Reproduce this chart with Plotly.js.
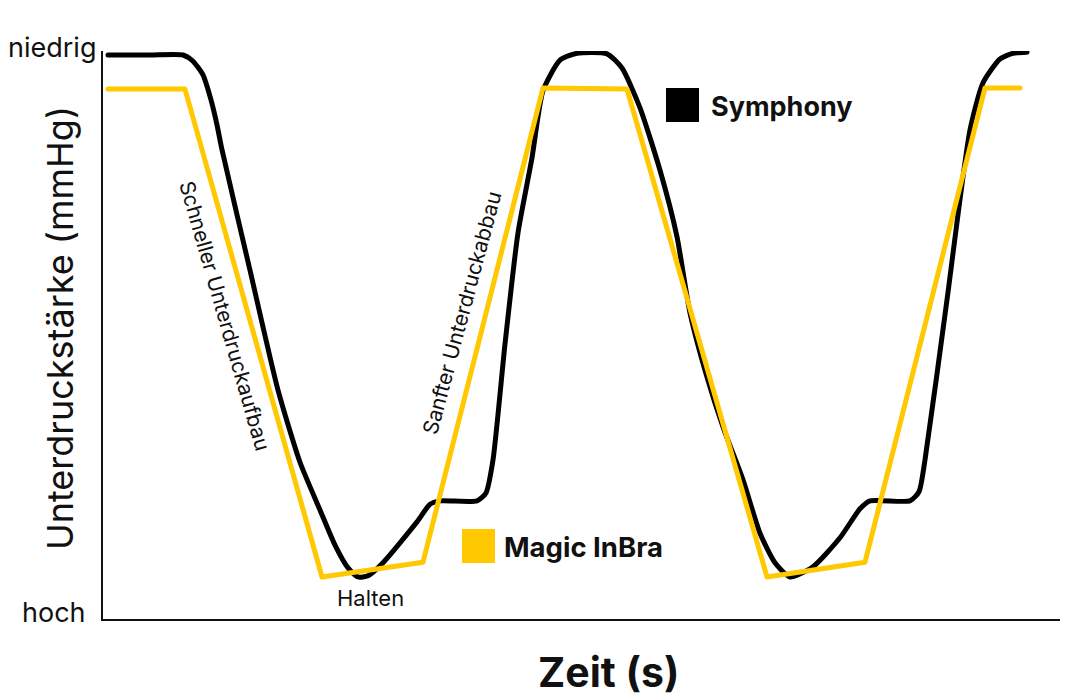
<!DOCTYPE html>
<html>
<head>
<meta charset="utf-8">
<script src="https://cdn.plot.ly/plotly-3.0.1.min.js"></script>
<style>html,body{margin:0;padding:0;background:#fff;}#chart{width:1072px;height:697px;}
path.js-line{stroke-linejoin:round !important;stroke-linecap:round !important;}</style>
</head>
<body>
<div id="chart"></div>
<script>
// Time (arbitrary units) and suction strength (0 = hoch, 100 = niedrig)
const symphonyTime = [0.5, 4.7, 8.0, 9.0, 10.0, 10.8, 11.4, 11.9, 14.7, 17.5, 19.7, 21.7, 23.2, 24.5, 25.5, 26.5, 28.0, 31.4, 32.7, 33.7, 37.4, 38.3, 39.0, 40.2, 41.5, 42.9, 44.0, 45.7, 47.4, 50.4, 51.9, 53.7, 55.7, 57.4, 58.7, 60.4, 62.0, 64.0, 65.7, 67.2, 68.7, 71.0, 73.7, 75.7, 76.7, 80.7, 81.6, 82.2, 84.4, 86.7, 88.0, 89.7, 91.0, 92.4];
const symphonyLevel = [99.3, 99.3, 99.3, 98.2, 95.8, 91.4, 87.0, 82.6, 61.4, 40.3, 27.6, 19.2, 13.0, 9.0, 7.4, 7.6, 9.9, 17.1, 20.2, 20.8, 20.8, 22.2, 28.0, 48.4, 68.0, 81.2, 93.0, 98.4, 99.6, 99.5, 97.0, 90.0, 79.0, 67.3, 53.9, 42.6, 33.8, 24.5, 15.1, 9.9, 7.4, 9.2, 14.3, 19.4, 20.8, 20.8, 22.4, 28.0, 56.2, 86.1, 94.4, 98.6, 99.6, 99.8];
const magicTime = [0.5, 8.2, 21.9, 32.0, 44.0, 52.4, 66.4, 76.2, 88.2, 91.7];
const magicLevel = [93.3, 93.3, 7.4, 10.0, 93.5, 93.3, 7.4, 10.0, 93.5, 93.5];
const yTickText = ['hoch', 'niedrig'];
const seriesNames = ['Symphony', 'Magic InBra'];
const seriesColors = ['#000000', '#FFC800'];

const FONT = 'Inter, "Noto Sans", sans-serif';

const traces = [
  {x: symphonyTime, y: symphonyLevel, type: 'scatter', mode: 'lines', name: seriesNames[0],
   line: {color: seriesColors[0], width: 5, shape: 'spline', smoothing: 0.6}, showlegend: false, hoverinfo: 'skip'},
  {x: magicTime, y: magicLevel, type: 'scatter', mode: 'lines', name: seriesNames[1],
   line: {color: seriesColors[1], width: 5}, showlegend: false, hoverinfo: 'skip'}
];

const layout = {
  width: 1072, height: 697,
  margin: {l: 103, r: 12, t: 51, b: 78},
  paper_bgcolor: '#fff', plot_bgcolor: '#fff',
  font: {family: FONT, color: '#111'},
  xaxis: {range: [0, 95.7], showgrid: false, zeroline: false, showticklabels: false, ticks: '',
          showline: true, linecolor: '#111', linewidth: 2},
  yaxis: {range: [0, 100], showgrid: false, zeroline: false, ticks: '', showticklabels: false,
          showline: true, linecolor: '#111', linewidth: 2},
  shapes: [
    {type: 'rect', xref: 'paper', yref: 'paper', x0: 0.5883, x1: 0.6228, y0: 0.875, y1: 0.935,
     fillcolor: seriesColors[0], line: {width: 0}},
    {type: 'rect', xref: 'paper', yref: 'paper', x0: 0.3751, x1: 0.4096, y0: 0.0986, y1: 0.1585,
     fillcolor: seriesColors[1], line: {width: 0}}
  ],
  annotations: [
    {xref: 'paper', yref: 'paper', x: -0.0533, y: 1.007, xanchor: 'center', yanchor: 'middle', showarrow: false,
     text: yTickText[1], font: {size: 27, color: '#111', family: FONT}},
    {xref: 'paper', yref: 'paper', x: -0.0512, y: 0.0123, xanchor: 'center', yanchor: 'middle', showarrow: false,
     text: yTickText[0], font: {size: 27, color: '#111', family: FONT}},
    {xref: 'paper', yref: 'paper', x: 0.633, y: 0.903, xanchor: 'left', yanchor: 'middle', showarrow: false,
     text: '<b>' + seriesNames[0] + '</b>', font: {size: 27, color: '#111', family: FONT}},
    {xref: 'paper', yref: 'paper', x: 0.417, y: 0.1268, xanchor: 'left', yanchor: 'middle', showarrow: false,
     text: '<b>' + seriesNames[1] + '</b>', font: {size: 27.5, color: '#111', family: FONT}},
    {xref: 'paper', yref: 'paper', x: 0.1275, y: 0.535, xanchor: 'center', yanchor: 'middle', showarrow: false, textangle: 74,
     text: 'Schneller Unterdruckaufbau', font: {size: 21, color: '#111', family: FONT}},
    {xref: 'paper', yref: 'paper', x: 0.375, y: 0.540, xanchor: 'center', yanchor: 'middle', showarrow: false, textangle: -75,
     text: 'Sanfter Unterdruckabbau', font: {size: 21, color: '#111', family: FONT}},
    {xref: 'paper', yref: 'paper', x: 0.279, y: 0.037, xanchor: 'center', yanchor: 'middle', showarrow: false,
     text: 'Halten', font: {size: 22, color: '#111', family: FONT}},
    {xref: 'paper', yref: 'paper', x: -0.045, y: 0.512, xanchor: 'center', yanchor: 'middle', showarrow: false, textangle: -90,
     text: 'Unterdruckstärke (mmHg)', font: {size: 36, color: '#111', family: FONT}},
    {xref: 'paper', yref: 'paper', x: 0.5287, y: -0.093, xanchor: 'center', yanchor: 'middle', showarrow: false,
     text: '<b>Zeit (s)</b>', font: {size: 41, color: '#111', family: FONT}}
  ]
};

Plotly.newPlot('chart', traces, layout, {displayModeBar: false, staticPlot: true});
</script>
</body>
</html>
